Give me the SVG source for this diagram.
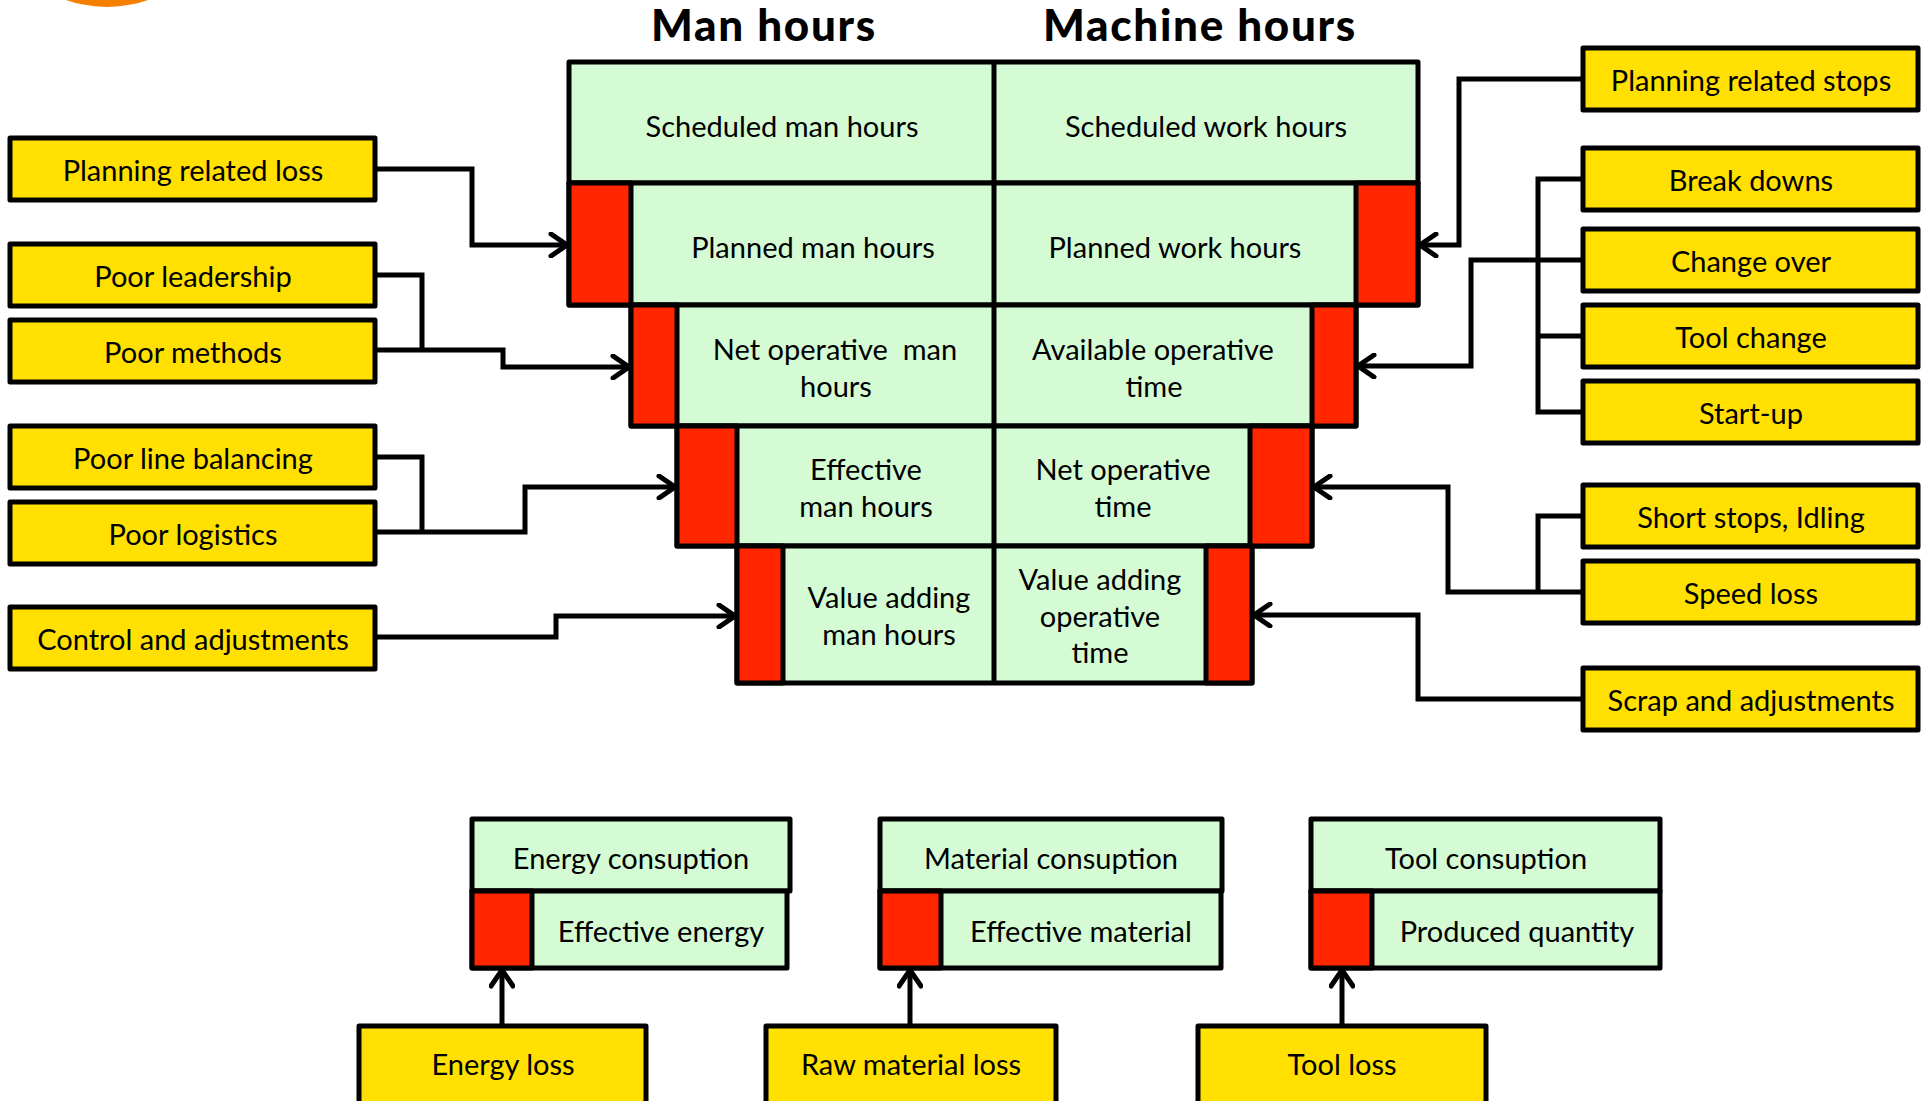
<svg xmlns="http://www.w3.org/2000/svg" width="1922" height="1101" viewBox="0 0 1922 1101">
  <defs>
    <style>
      .green { fill: #D4FBD4; stroke: #000; stroke-width: 5; stroke-linejoin: round; }
      .red { fill: #FF2600; stroke: #000; stroke-width: 5; stroke-linejoin: round; }
      .loss { fill: #FFE000; stroke: #000; stroke-width: 5; stroke-linejoin: round; }
      .div { stroke: #000; stroke-width: 5; fill: none; }
      .txt { font-family: Lato, "Liberation Sans", sans-serif; font-size: 29px; fill: #000; text-anchor: middle; }
      .title { font-family: Lato, "Liberation Sans", sans-serif; font-size: 44px; font-weight: 900; letter-spacing: 1.7px; fill: #000; text-anchor: middle; }
      .wire { fill: none; stroke: #000; stroke-width: 5; stroke-linejoin: miter; }
      .arrow { fill: none; stroke: #000; stroke-width: 5; marker-end: url(#open); }
    </style>
    <marker id="open" viewBox="0 0 22 26" refX="20" refY="13" markerWidth="22" markerHeight="26" markerUnits="userSpaceOnUse" orient="auto">
      <path d="M4,2 L20,13 L4,24" fill="none" stroke="#000" stroke-width="5" stroke-linecap="round" stroke-linejoin="miter"/>
    </marker>
  </defs>

  <rect x="0" y="0" width="1922" height="1101" fill="#fff"/>

  <!-- logo fragment at the top edge -->
  <circle cx="107" cy="-117" r="124" fill="#F58000"/>

  <!-- column headings -->
  <text class="title" x="764" y="41">Man hours</text>
  <text class="title" x="1200" y="41">Machine hours</text>

  <!-- time funnel, one group per level -->
  <g id="level-scheduled">
    <rect class="green" x="569" y="62" width="849" height="121"/>
    <text class="txt" x="782" y="137">Scheduled man hours</text>
    <text class="txt" x="1206" y="137">Scheduled work hours</text>
  </g>
  <g id="level-planned">
    <rect class="green" x="569" y="183" width="849" height="122"/>
    <rect class="red" x="569" y="183" width="62" height="122"/>
    <rect class="red" x="1356" y="183" width="62" height="122"/>
    <text class="txt" x="813" y="258">Planned man hours</text>
    <text class="txt" x="1175" y="258">Planned work hours</text>
  </g>
  <g id="level-net-operative">
    <rect class="green" x="631" y="305" width="725" height="121"/>
    <rect class="red" x="631" y="305" width="46" height="121"/>
    <rect class="red" x="1312" y="305" width="44" height="121"/>
    <text class="txt" x="835" y="360" xml:space="preserve">Net operative  man</text>
    <text class="txt" x="836" y="397">hours</text>
    <text class="txt" x="1153" y="360">Available operative</text>
    <text class="txt" x="1154" y="397">time</text>
  </g>
  <g id="level-effective">
    <rect class="green" x="677" y="426" width="635" height="120"/>
    <rect class="red" x="677" y="426" width="60" height="120"/>
    <rect class="red" x="1250" y="426" width="62" height="120"/>
    <text class="txt" x="866" y="480">Effective</text>
    <text class="txt" x="866" y="517">man hours</text>
    <text class="txt" x="1123" y="480">Net operative</text>
    <text class="txt" x="1123" y="517">time</text>
  </g>
  <g id="level-value-adding">
    <rect class="green" x="737" y="546" width="515" height="137"/>
    <rect class="red" x="737" y="546" width="46" height="137"/>
    <rect class="red" x="1206" y="546" width="46" height="137"/>
    <text class="txt" x="889" y="608">Value adding</text>
    <text class="txt" x="889" y="645">man hours</text>
    <text class="txt" x="1100" y="590">Value adding</text>
    <text class="txt" x="1100" y="627">operative</text>
    <text class="txt" x="1100" y="663">time</text>
  </g>
  <line class="div" x1="994" y1="62" x2="994" y2="683"/>

  <!-- man-hour losses -->
  <g id="loss-planning">
    <rect class="loss" x="10" y="138" width="365" height="62"/>
    <text class="txt" x="193" y="181">Planning related loss</text>
  </g>
  <g id="loss-leadership">
    <rect class="loss" x="10" y="244" width="365" height="62"/>
    <text class="txt" x="193" y="287">Poor leadership</text>
  </g>
  <g id="loss-methods">
    <rect class="loss" x="10" y="320" width="365" height="62"/>
    <text class="txt" x="193" y="363">Poor methods</text>
  </g>
  <g id="loss-line-balancing">
    <rect class="loss" x="10" y="426" width="365" height="62"/>
    <text class="txt" x="193" y="469">Poor line balancing</text>
  </g>
  <g id="loss-logistics">
    <rect class="loss" x="10" y="502" width="365" height="62"/>
    <text class="txt" x="193" y="545">Poor logistics</text>
  </g>
  <g id="loss-control">
    <rect class="loss" x="10" y="607" width="365" height="62"/>
    <text class="txt" x="193" y="650">Control and adjustments</text>
  </g>

  <!-- machine-hour losses -->
  <g id="loss-planning-stops">
    <rect class="loss" x="1583" y="48" width="335" height="62"/>
    <text class="txt" x="1751" y="91">Planning related stops</text>
  </g>
  <g id="loss-break-downs">
    <rect class="loss" x="1583" y="148" width="335" height="62"/>
    <text class="txt" x="1751" y="191">Break downs</text>
  </g>
  <g id="loss-change-over">
    <rect class="loss" x="1583" y="229" width="335" height="62"/>
    <text class="txt" x="1751" y="272">Change over</text>
  </g>
  <g id="loss-tool-change">
    <rect class="loss" x="1583" y="305" width="335" height="62"/>
    <text class="txt" x="1751" y="348">Tool change</text>
  </g>
  <g id="loss-start-up">
    <rect class="loss" x="1583" y="381" width="335" height="62"/>
    <text class="txt" x="1751" y="424">Start-up</text>
  </g>
  <g id="loss-short-stops">
    <rect class="loss" x="1583" y="485" width="335" height="62"/>
    <text class="txt" x="1751" y="528">Short stops, Idling</text>
  </g>
  <g id="loss-speed">
    <rect class="loss" x="1583" y="561" width="335" height="62"/>
    <text class="txt" x="1751" y="604">Speed loss</text>
  </g>
  <g id="loss-scrap">
    <rect class="loss" x="1583" y="668" width="335" height="62"/>
    <text class="txt" x="1751" y="711">Scrap and adjustments</text>
  </g>

  <!-- consumption blocks -->
  <g id="energy">
    <rect class="green" x="472" y="819" width="318" height="72"/>
    <rect class="green" x="472" y="891" width="315" height="77"/>
    <rect class="red" x="472" y="891" width="60" height="77"/>
    <text class="txt" x="631" y="869">Energy consuption</text>
    <text class="txt" x="661" y="942">Effective energy</text>
  </g>
  <g id="material">
    <rect class="green" x="880" y="819" width="342" height="72"/>
    <rect class="green" x="880" y="891" width="341" height="77"/>
    <rect class="red" x="880" y="891" width="61" height="77"/>
    <text class="txt" x="1051" y="869">Material consuption</text>
    <text class="txt" x="1081" y="942">Effective material</text>
  </g>
  <g id="tool">
    <rect class="green" x="1311" y="819" width="349" height="72"/>
    <rect class="green" x="1311" y="891" width="349" height="77"/>
    <rect class="red" x="1311" y="891" width="61" height="77"/>
    <text class="txt" x="1486" y="869">Tool consuption</text>
    <text class="txt" x="1517" y="942">Produced quantity</text>
  </g>

  <g id="loss-energy">
    <rect class="loss" x="359" y="1026" width="287" height="90"/>
    <text class="txt" x="503" y="1075">Energy loss</text>
  </g>
  <g id="loss-raw-material">
    <rect class="loss" x="766" y="1026" width="290" height="90"/>
    <text class="txt" x="911" y="1075">Raw material loss</text>
  </g>
  <g id="loss-tool">
    <rect class="loss" x="1198" y="1026" width="288" height="90"/>
    <text class="txt" x="1342" y="1075">Tool loss</text>
  </g>

  <!-- connectors -->
  <g id="connectors">
    <path class="arrow" d="M375,169 H472 V245 H567"/>
    <path class="wire" d="M375,275 H422 V350"/>
    <path class="arrow" d="M375,350 H503 V367 H629"/>
    <path class="wire" d="M375,457 H422 V532"/>
    <path class="arrow" d="M375,532 H525 V487 H675"/>
    <path class="arrow" d="M375,637 H556 V616 H735"/>

    <path class="arrow" d="M1583,79 H1459 V245 H1420"/>
    <path class="wire" d="M1583,179 H1538 V412 H1583 M1538,336 H1583"/>
    <path class="arrow" d="M1583,260 H1471 V366 H1358"/>
    <path class="wire" d="M1583,516 H1538 V592"/>
    <path class="arrow" d="M1583,592 H1448 V487 H1314"/>
    <path class="arrow" d="M1583,699 H1418 V615 H1254"/>

    <path class="arrow" d="M502,1026 V970"/>
    <path class="arrow" d="M910,1026 V970"/>
    <path class="arrow" d="M1342,1026 V970"/>
  </g>
</svg>
